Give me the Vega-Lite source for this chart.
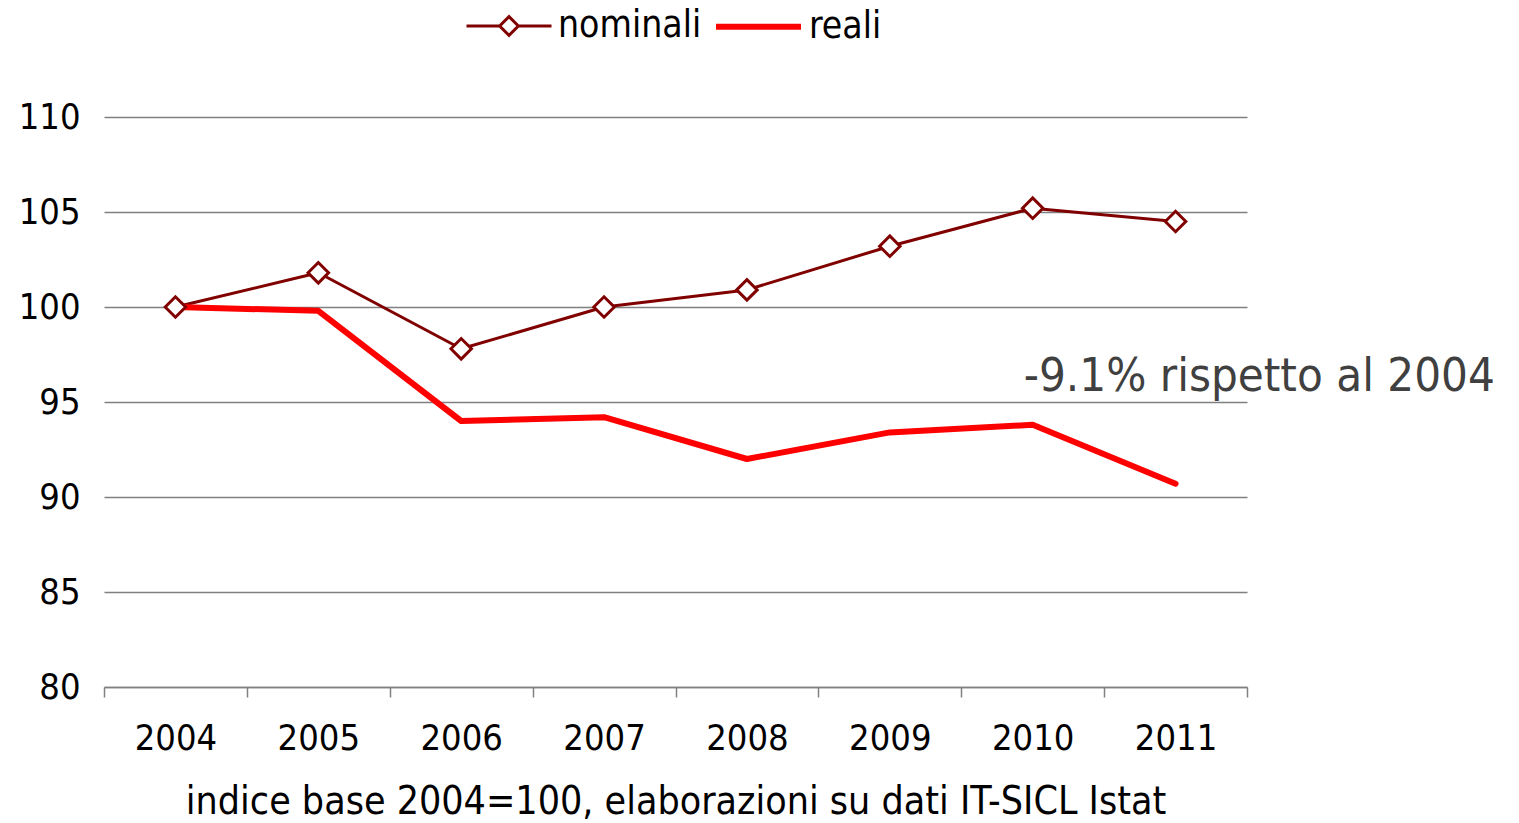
{
  "$schema": "https://vega.github.io/schema/vega-lite/v6.json",
  "width": 1143,
  "height": 570,
  "autosize": {"type": "none"},
  "padding": {"left": 104, "top": 117, "right": 272, "bottom": 136},
  "background": "white",
  "config": {
    "view": {"stroke": null},
    "font": "DejaVu Sans Condensed, DejaVu Sans, sans-serif"
  },
  "datasets": {
    "series": [
      {"year": "2004", "series": "nominali", "value": 100.0},
      {"year": "2005", "series": "nominali", "value": 101.8},
      {"year": "2006", "series": "nominali", "value": 97.8},
      {"year": "2007", "series": "nominali", "value": 100.0},
      {"year": "2008", "series": "nominali", "value": 100.9},
      {"year": "2009", "series": "nominali", "value": 103.2},
      {"year": "2010", "series": "nominali", "value": 105.2},
      {"year": "2011", "series": "nominali", "value": 104.5},
      {"year": "2004", "series": "reali", "value": 100.0},
      {"year": "2005", "series": "reali", "value": 99.8},
      {"year": "2006", "series": "reali", "value": 94.0},
      {"year": "2007", "series": "reali", "value": 94.2},
      {"year": "2008", "series": "reali", "value": 92.0},
      {"year": "2009", "series": "reali", "value": 93.4},
      {"year": "2010", "series": "reali", "value": 93.8},
      {"year": "2011", "series": "reali", "value": 90.7}
    ],
    "note": [
      {"year": "2010", "value": 95.6, "label": "-9.1% rispetto al 2004"}
    ]
  },
  "encoding": {
    "x": {
      "field": "year",
      "type": "ordinal",
      "bandPosition": 0.5,
      "scale": {"type": "band", "paddingInner": 0, "paddingOuter": 0, "domain": ["2004","2005","2006","2007","2008","2009","2010","2011"]},
      "axis": {
        "title": "indice base 2004=100, elaborazioni su dati IT-SICL Istat",
        "titleFontSize": 39,
        "titleFontWeight": "normal",
        "titleColor": "#000000",
        "titlePadding": 26,
        "labelFontSize": 36,
        "labelColor": "#000000",
        "labelAngle": 0,
        "labelPadding": 24,
        "tickBand": "extent",
        "tickSize": 10,
        "tickColor": "#808080",
        "tickWidth": 1.5,
        "domainColor": "#808080",
        "domainWidth": 1.5,
        "grid": false
      }
    },
    "y": {
      "field": "value",
      "type": "quantitative",
      "scale": {"domain": [80, 110], "nice": false, "zero": false},
      "axis": {
        "title": null,
        "values": [80, 85, 90, 95, 100, 105, 110],
        "labelFontSize": 36,
        "labelColor": "#000000",
        "labelPadding": 24,
        "ticks": false,
        "domain": false,
        "grid": true,
        "gridColor": "#808080",
        "gridWidth": 1.5
      }
    }
  },
  "layer": [
    {
      "data": {"name": "series"},
      "mark": {"type": "line", "strokeCap": "round", "strokeJoin": "round"},
      "encoding": {
        "color": {
          "field": "series",
          "type": "nominal",
          "scale": {"domain": ["nominali", "reali"], "range": ["#800000", "#ff0000"]},
          "legend": {
            "orient": "none",
            "legendX": 361,
            "legendY": -136,
            "direction": "horizontal",
            "title": null,
            "labelFontSize": 37,
            "labelColor": "#000000",
            "labelOffset": 5,
            "columnPadding": 2,
            "symbolSize": 7225,
            "symbolStrokeWidth": 3,
            "encode": {
              "symbols": {
                "update": {
                  "shape": {"signal": "datum.value === 'nominali' ? 'M-1,0L-0.22,0M0.22,0L1,0M0,-0.22L0.22,0L0,0.22L-0.22,0Z' : 'M-1,0L1,0'"},
                  "strokeWidth": {"signal": "datum.value === 'nominali' ? 3 : 6"},
                  "fill": {"value": "white"},
                  "fillOpacity": {"value": 1}
                }
              }
            }
          }
        },
        "strokeWidth": {
          "field": "series",
          "type": "nominal",
          "scale": {"domain": ["nominali", "reali"], "range": [3, 6]},
          "legend": null
        }
      }
    },
    {
      "data": {"name": "series"},
      "transform": [{"filter": "datum.series === 'nominali'"}],
      "mark": {"type": "point", "shape": "diamond", "filled": true, "fill": "white", "stroke": "#800000", "strokeWidth": 3, "size": 420, "opacity": 1},
      "encoding": {}
    },
    {
      "data": {"name": "note"},
      "mark": {"type": "text", "align": "left", "baseline": "alphabetic", "dx": -9, "fontSize": 47, "color": "#404040"},
      "encoding": {"text": {"field": "label"}}
    }
  ]
}
